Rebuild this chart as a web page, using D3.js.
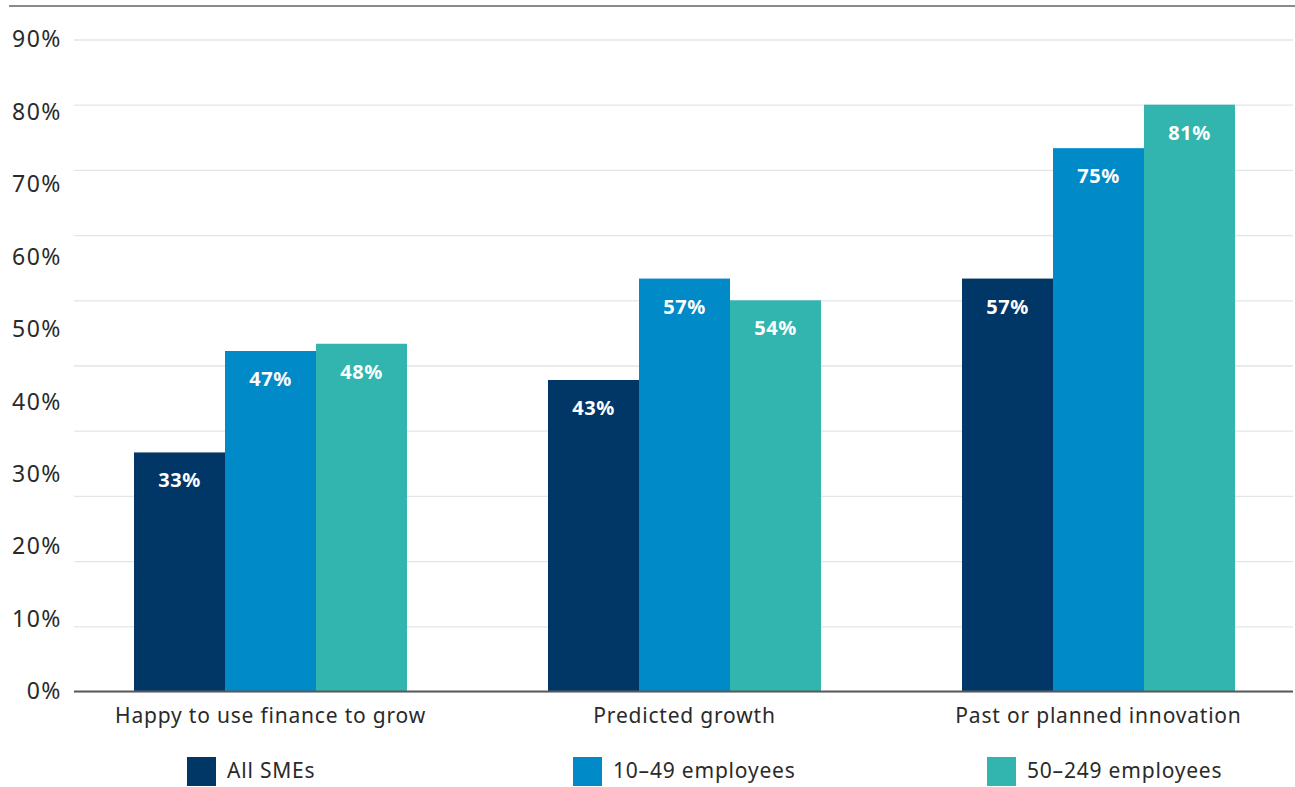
<!DOCTYPE html>
<html>
<head>
<meta charset="utf-8">
<script src="https://cdn.jsdelivr.net/npm/d3@7"></script>
<style>
  html, body { margin: 0; padding: 0; background: #fff; }
  svg { display: block; }
  text { font-family: "Noto Sans", "DejaVu Sans", sans-serif; }
</style>
</head>
<body>
<svg id="chart" width="1295" height="787"></svg>
<script>
// Share of SMEs by size band
const categories = ["Happy to use finance to grow", "Predicted growth", "Past or planned innovation"];
const seriesNames = ["All SMEs", "10–49 employees", "50–249 employees"];
const allSMEs = [33, 43, 57];
const employees10to49 = [47, 57, 75];
const employees50to249 = [48, 54, 81];
const yTickLabels = [0, 10, 20, 30, 40, 50, 60, 70, 80, 90];
const seriesColors = ["#003767", "#008AC8", "#31B5AE"];

const seriesValues = [allSMEs, employees10to49, employees50to249];
const rows = categories.map((c, i) => ({
  category: c,
  values: seriesNames.map((s, j) => ({ key: s, value: seriesValues[j][i] }))
}));

const svg = d3.select("#chart");
const W = 1295;

const plotLeft = 74, plotRight = 1293;
const y = d3.scaleLinear().domain([0, 90]).range([691.5, 39.5]);

const x0 = d3.scaleBand().domain(categories).range([63.5, 1305.5]).padding(0);
const groupInset = 70.5;
const x1 = d3.scaleBand().domain(seriesNames)
  .range([groupInset, x0.bandwidth() - groupInset]).padding(0);
const color = d3.scaleOrdinal().domain(seriesNames).range(seriesColors);

// top rule
svg.append("line")
  .attr("x1", 9).attr("x2", W).attr("y1", 6).attr("y2", 6)
  .attr("stroke", "#8a8a8a").attr("stroke-width", 2);

// horizontal gridlines: ten equal divisions of the value range
const gridValues = d3.range(11).map(i => i * 9);
const gridAxis = d3.axisLeft(y).tickValues(gridValues)
  .tickSize(-(plotRight - plotLeft)).tickFormat("");
svg.append("g")
  .attr("transform", `translate(${plotLeft},0)`)
  .call(gridAxis)
  .call(g => g.select(".domain").remove())
  .call(g => g.selectAll(".tick line").attr("stroke", "#e3e5e8").attr("stroke-width", 1.3));

// y-axis labels
const yAxis = d3.axisLeft(y).tickValues(yTickLabels)
  .tickSize(0).tickPadding(0).tickFormat(d => d + "%");
svg.append("g")
  .attr("transform", `translate(62,0)`)
  .call(yAxis)
  .call(g => g.select(".domain").remove())
  .call(g => g.selectAll("text")
    .attr("font-size", 23).attr("fill", "#2a2a2a")
    .attr("letter-spacing", 1.5)
    .attr("font-family", "'Noto Sans', sans-serif"));

// bars
const groups = svg.append("g").selectAll("g")
  .data(rows).join("g")
  .attr("transform", d => `translate(${x0(d.category)},0)`);

groups.selectAll("rect")
  .data(d => d.values).join("rect")
  .attr("x", d => x1(d.key))
  .attr("width", x1.bandwidth())
  .attr("y", d => y(d.value))
  .attr("height", d => y(0) - y(d.value))
  .attr("fill", d => color(d.key));

groups.selectAll("text.val")
  .data(d => d.values).join("text")
  .attr("class", "val")
  .attr("x", d => x1(d.key) + x1.bandwidth() / 2)
  .attr("y", d => y(d.value) + 35)
  .attr("text-anchor", "middle")
  .attr("font-size", 20).attr("font-weight", 700)
  .attr("letter-spacing", 0.6)
  .attr("fill", "#fff")
  .text(d => d.value + "%");

// x-axis baseline and category labels
const xAxis = d3.axisBottom(x0).tickSize(0).tickPadding(0);
svg.append("g")
  .attr("transform", `translate(0,${y(0)})`)
  .call(xAxis)
  .call(g => g.select(".domain").remove())
  .call(g => g.selectAll("text")
    .attr("dy", 0).attr("y", 31)
    .attr("font-size", 21).attr("fill", "#2a2a2a")
    .attr("letter-spacing", 0.8)
    .attr("font-family", "'Noto Sans', sans-serif"));

svg.append("line")
  .attr("x1", plotLeft).attr("x2", plotRight)
  .attr("y1", y(0)).attr("y2", y(0))
  .attr("stroke", "#5a5a5a").attr("stroke-width", 2);

// legend
const legendX = [187, 573, 987];
const legend = svg.append("g").selectAll("g")
  .data(seriesNames).join("g")
  .attr("transform", (d, i) => `translate(${legendX[i]},757)`);
legend.append("rect")
  .attr("width", 29).attr("height", 29)
  .attr("fill", d => color(d));
legend.append("text")
  .attr("x", 40).attr("y", 21)
  .attr("font-size", 21).attr("fill", "#2a2a2a")
  .attr("letter-spacing", 0.8)
  .text(d => d);
</script>
</body>
</html>
